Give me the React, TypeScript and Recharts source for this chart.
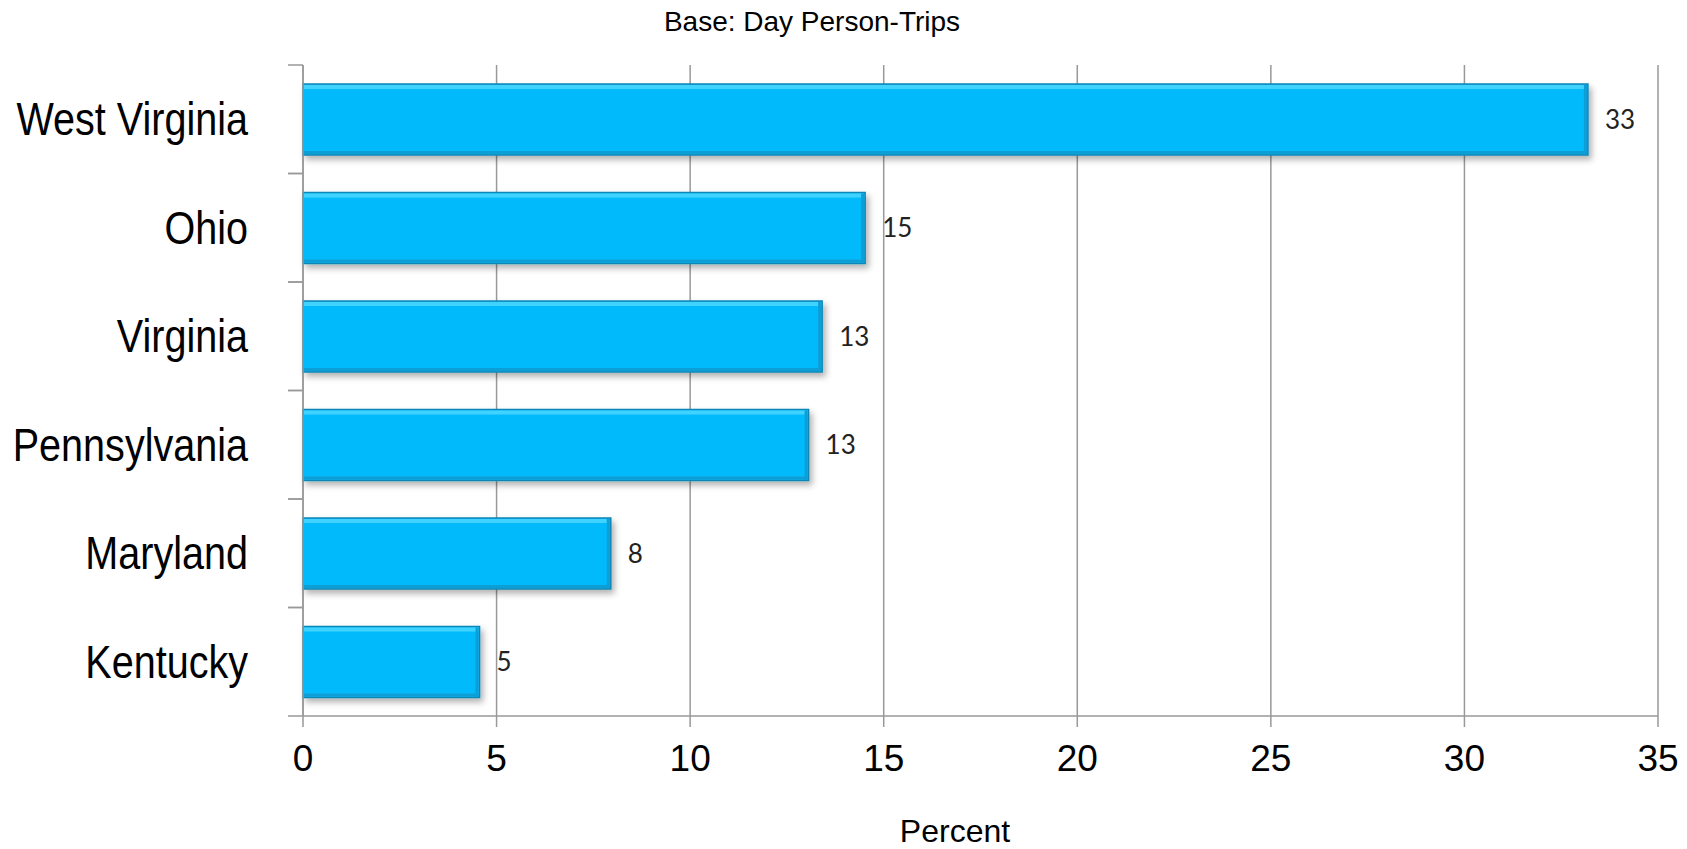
import React from "react"
import {
	BarChart,
	Bar,
	XAxis,
	YAxis,
	CartesianGrid,
	LabelList,
} from "recharts"

const states = ["West Virginia", "Ohio", "Virginia", "Pennsylvania", "Maryland", "Kentucky"]
const percents = [33.19, 14.52, 13.41, 13.06, 7.95, 4.56]
const xTicks = [0, 5, 10, 15, 20, 25, 30, 35]

const data = states.map((state, i) => ({ state, percent: percents[i] }))

const W = 1687
const H = 849
const TOP = 65
const BOTTOM = 133
const AXIS_W = 303
const BAND = (H - TOP - BOTTOM) / states.length
const GRAY = "#999999"

// no Arial Narrow here, so squeeze Liberation Sans instead
const CategoryTick = (props: any) => {
	const { x, y, payload } = props
	const axisX = x + 55
	return (
		<g>
			<line x1={axisX - 15} y1={y - BAND / 2} x2={axisX} y2={y - BAND / 2} stroke={GRAY} strokeWidth={1.5} />
			<line x1={axisX - 15} y1={y + BAND / 2} x2={axisX} y2={y + BAND / 2} stroke={GRAY} strokeWidth={1.5} />
			<text
				transform={`translate(${x},${y}) scale(0.86,1)`}
				x={0}
				y={0}
				textAnchor="end"
				dominantBaseline="central"
				fontFamily="'Liberation Sans', Arial, sans-serif"
				fontSize={46}
				fill="#000">
				{payload.value}
			</text>
		</g>
	)
}

const BevelBar = (props: any) => {
	const { x, y, width, height } = props
	if (!width || width <= 0) return null
	return (
		<g filter="url(#barShadow)">
			<rect x={x} y={y} width={width} height={height} fill="#05bafc" stroke="#0b86b5" strokeWidth={1.5} />
			<rect x={x + 1} y={y + 1} width={width - 2} height={4} fill="#3fd3ff" />
			<rect x={x + 1} y={y + height - 4} width={width - 2} height={3} fill="#0a9ed6" />
			<rect x={x + width - 4} y={y + 1} width={3} height={height - 2} fill="#0a9ed6" />
		</g>
	)
}

export default function App() {
	return (
		<div style={{ position: "absolute", left: 0, top: 0, width: W, height: H, background: "#fff" }}>
			<BarChart
				width={W}
				height={H}
				data={data}
				layout="vertical"
				margin={{ top: TOP, right: 29, left: 0, bottom: 0 }}>
				<defs>
					<filter id="barShadow" x="-5%" y="-20%" width="115%" height="150%">
						<feDropShadow dx="3" dy="4" stdDeviation="3" floodColor="#000" floodOpacity="0.3" />
					</filter>
				</defs>
				<CartesianGrid horizontal={false} stroke={GRAY} strokeWidth={1.5} />
				<XAxis
					type="number"
					domain={[0, 35]}
					ticks={xTicks}
					height={BOTTOM}
					stroke={GRAY}
					strokeWidth={1.5}
					tickSize={11}
					tickMargin={18}
					tick={{ fontSize: 37, fill: "#000", fontFamily: "'Liberation Sans', Arial, sans-serif" }}
				/>
				<YAxis
					type="category"
					dataKey="state"
					width={AXIS_W}
					stroke={GRAY}
					strokeWidth={1.5}
					tickLine={false}
					tickSize={0}
					tickMargin={55}
					tick={<CategoryTick />}
				/>
				<Bar dataKey="percent" barSize={71} shape={<BevelBar />} isAnimationActive={false}>
					<LabelList
						dataKey="percent"
						position="right"
						offset={17}
						formatter={(v: any) => Math.round(Number(v))}
						style={{ fontFamily: "Lato, sans-serif", fontSize: 26, fill: "#222" }}
					/>
				</Bar>
			</BarChart>
			<div
				style={{
					position: "absolute",
					left: 812,
					top: 22,
					transform: "translate(-50%, -50%)",
					fontFamily: "'Liberation Sans', Arial, sans-serif",
					fontSize: 28,
					whiteSpace: "nowrap",
				}}>
				Base: Day Person-Trips
			</div>
			<div
				style={{
					position: "absolute",
					left: 955,
					top: 831,
					transform: "translate(-50%, -50%)",
					fontFamily: "'Liberation Sans', Arial, sans-serif",
					fontSize: 32,
					whiteSpace: "nowrap",
				}}>
				Percent
			</div>
		</div>
	)
}
